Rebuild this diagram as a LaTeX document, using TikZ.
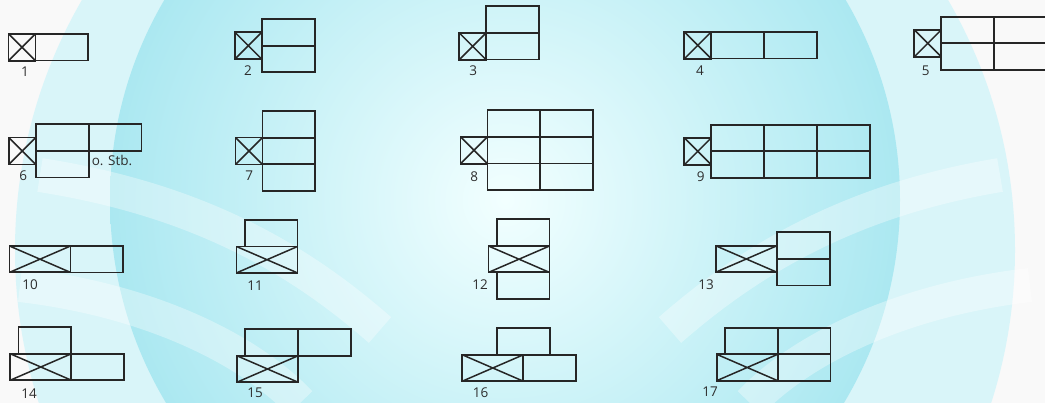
\documentclass[tikz,border=0pt]{standalone}
\usepackage{fontspec}
\setmainfont{Open Sans}
\usetikzlibrary{positioning}
\definecolor{glow}{HTML}{ABE8F1}
\definecolor{inkgray}{HTML}{2E2E2E}
\tikzset{
  cell/.style={draw=black!85, line width=1.8pt, minimum width=52.8pt, minimum height=26.6pt,
    inner sep=0pt, outer sep=0pt},
  xsq/.style={cell, minimum width=27pt, minimum height=27pt,
    path picture={\draw[line width=1.5pt]
      (path picture bounding box.south west) -- (path picture bounding box.north east)
      (path picture bounding box.north west) -- (path picture bounding box.south east);}},
  xbox/.style={xsq, minimum width=61pt, minimum height=26.4pt},
  num/.style={text=inkgray, font=\fontsize{13.5}{15}\selectfont, inner sep=0pt},
  band/.style={draw=white, opacity=.35, line width=34pt},
}
\begin{document}
\begin{tikzpicture}[x=1pt, y=-1pt]
\clip (0,0) rectangle (1045,403);
% backdrop
\fill[gray!5] (0,0) rectangle (1045,403);
\fill[glow!45] (515,250) circle (500);
\shade[inner color=cyan!5, outer color=glow] (505,200) circle (395);
\draw[band] (40,175) .. controls (200,200) and (300,260) .. (380,330);
\draw[band] (20,285) .. controls (150,300) and (250,350) .. (300,403);
\draw[band] (1000,175) .. controls (850,200) and (750,260) .. (670,330);
\draw[band] (1030,285) .. controls (900,300) and (800,350) .. (750,403);

% row 1
\node[xsq] (x1) at (22,47.2) {};
\node[cell, right=0pt of x1] (c1) {};
\node[num] (n1) at (25,72) {1};

\node[xsq] (x2) at (248.3,45.7) {};
\node[cell, anchor=south west] (c2a) at (x2.east) {};
\node[cell, anchor=north west] (c2b) at (x2.east) {};
\node[num] (n2) at (248,71) {2};

\node[xsq] (x3) at (472.7,46.3) {};
\node[cell, right=0pt of x3] (c3b) {};
\node[cell, above=0pt of c3b] (c3a) {};
\node[num] (n3) at (473.3,71) {3};

\node[xsq] (x4) at (697.8,45.3) {};
\node[cell, right=0pt of x4] (c4a) {};
\node[cell, right=0pt of c4a] (c4b) {};
\node[num] (n4) at (700,71) {4};

\node[xsq] (x5) at (927.8,43.3) {};
\node[cell, anchor=south west] (c5a) at (x5.east) {};
\node[cell, anchor=north west] (c5b) at (x5.east) {};
\node[cell, right=0pt of c5a] (c5c) {};
\node[cell, right=0pt of c5b] (c5d) {};
\node[num] (n5) at (925.7,71) {5};

% row 2
\node[xsq] (x6) at (22.3,151) {};
\node[cell, anchor=south west] (c6a) at (x6.east) {};
\node[cell, anchor=north west] (c6c) at (x6.east) {};
\node[cell, right=0pt of c6a] (c6b) {};
\node[num, anchor=base west, xshift=3pt, yshift=-15pt] (stb) at (c6c.north east) {o. Stb.};
\node[num] (n6) at (23.3,176) {6};

\node[xsq] (x7) at (249,151) {};
\node[cell, right=0pt of x7] (c7b) {};
\node[cell, above=0pt of c7b] (c7a) {};
\node[cell, below=0pt of c7b] (c7c) {};
\node[num] (n7) at (249.3,176) {7};

\node[xsq] (x8) at (474,150.3) {};
\node[cell, right=0pt of x8] (c8b) {};
\node[cell, above=0pt of c8b] (c8a) {};
\node[cell, below=0pt of c8b] (c8c) {};
\node[cell, right=0pt of c8a] (c8d) {};
\node[cell, right=0pt of c8b] (c8e) {};
\node[cell, right=0pt of c8c] (c8f) {};
\node[num] (n8) at (474.3,176.7) {8};

\node[xsq] (x9) at (697.8,151.3) {};
\node[cell, anchor=south west] (c9a) at (x9.east) {};
\node[cell, anchor=north west] (c9d) at (x9.east) {};
\node[cell, right=0pt of c9a] (c9b) {};
\node[cell, right=0pt of c9b] (c9c) {};
\node[cell, right=0pt of c9d] (c9e) {};
\node[cell, right=0pt of c9e] (c9f) {};
\node[num] (n9) at (700.7,176.7) {9};

% row 3
\node[xbox] (x10) at (40,259.2) {};
\node[cell, right=0pt of x10] (c10) {};
\node[num] (n10) at (30,285) {10};

\node[xbox] (x11) at (267,259.7) {};
\node[cell, anchor=south east] (c11) at (x11.north east) {};
\node[num] (n11) at (255,286) {11};

\node[xbox] (x12) at (519,259.2) {};
\node[cell, anchor=south east] (c12a) at (x12.north east) {};
\node[cell, anchor=north east] (c12b) at (x12.south east) {};
\node[num] (n12) at (480,285) {12};

\node[xbox] (x13) at (746.3,259) {};
\node[cell, anchor=south west] (c13a) at (x13.east) {};
\node[cell, anchor=north west] (c13b) at (x13.east) {};
\node[num] (n13) at (706,285) {13};

% row 4
\node[xbox] (x14) at (40.8,367) {};
\node[cell, right=0pt of x14] (c14b) {};
\node[cell, anchor=south east] (c14a) at (x14.north east) {};
\node[num] (n14) at (29,394) {14};

\node[xbox] (x15) at (267.5,369) {};
\node[cell, anchor=south east] (c15a) at (x15.north east) {};
\node[cell, right=0pt of c15a] (c15b) {};
\node[num] (n15) at (255,393) {15};

\node[xbox] (x16) at (492.8,368) {};
\node[cell, right=0pt of x16] (c16b) {};
\node[cell, anchor=south] (c16a) at (x16.north east) {};
\node[num] (n16) at (480.5,393) {16};

\node[xbox] (x17) at (747.2,367.5) {};
\node[cell, right=0pt of x17] (c17c) {};
\node[cell, anchor=south east] (c17a) at (x17.north east) {};
\node[cell, right=0pt of c17a] (c17b) {};
\node[num] (n17) at (710,392) {17};
\end{tikzpicture}
\end{document}
